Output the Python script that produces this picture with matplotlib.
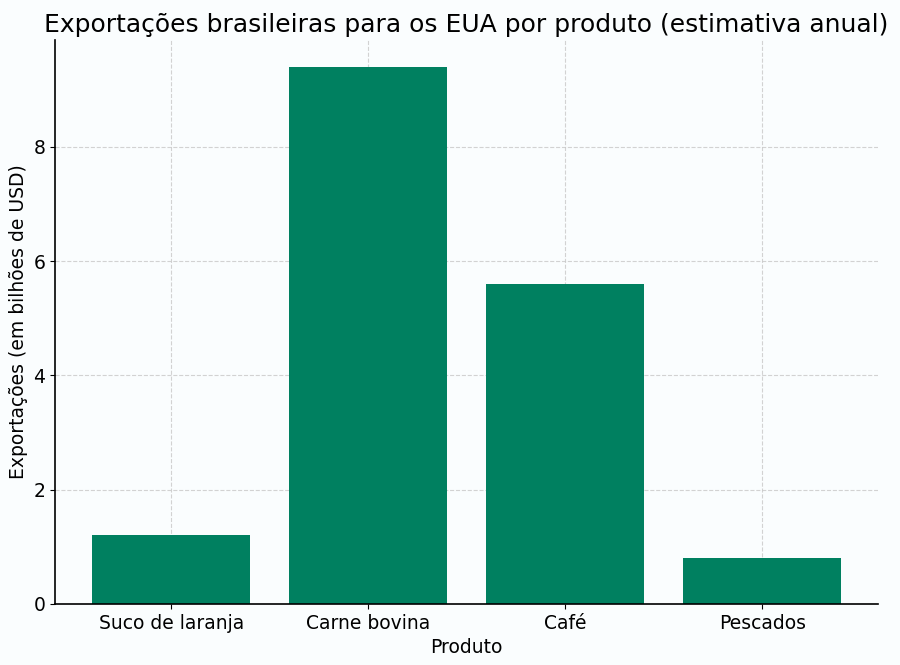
import matplotlib
matplotlib.use("Agg")
import matplotlib.pyplot as plt

plt.rcParams["font.family"] = ["DejaVu Sans"]

categories = ["Suco de laranja", "Carne bovina", "Café", "Pescados"]
values = [1.2, 9.4, 5.6, 0.8]

fig = plt.figure(figsize=(9, 6.65), dpi=100, facecolor="#fafdfe")
ax = fig.add_axes([0.061, 0.092, 0.915, 0.848])
ax.set_facecolor("#fafdfe")
ax.bar(categories, values, color="#008060", width=0.8, zorder=2)
ax.grid(True, linestyle="--", color="#c8c8c8", linewidth=0.8, alpha=0.8, zorder=3)
ax.spines["top"].set_visible(False)
ax.spines["right"].set_visible(False)
ax.spines["left"].set_linewidth(1.2)
ax.spines["bottom"].set_linewidth(1.2)
ax.tick_params(labelsize=13.5)
ax.set_xlabel("Produto", fontsize=13.5)
ax.set_ylabel("Exportações (em bilhões de USD)", fontsize=13.5)
ax.set_title("Exportações brasileiras para os EUA por produto (estimativa anual)", fontsize=18)
fig.savefig("out.png", dpi=100, facecolor=fig.get_facecolor())
